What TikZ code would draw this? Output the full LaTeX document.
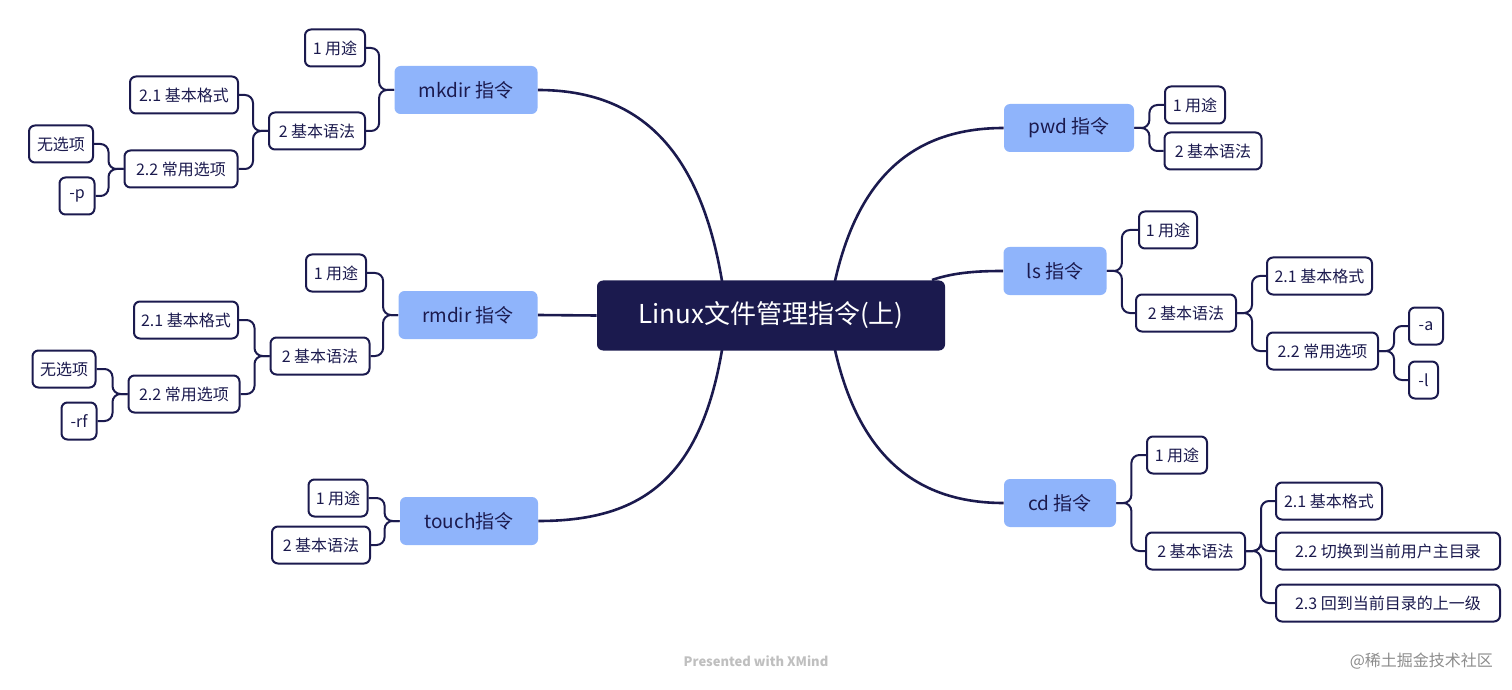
\documentclass[tikz,border=0pt]{standalone}
\usepackage{fontspec}
\setmainfont{Noto Sans CJK SC}
\begin{document}
\definecolor{navy}{HTML}{1B1A4E}
\definecolor{lblue}{HTML}{8FB4FB}
\begin{tikzpicture}[x=0.5pt,y=-0.5pt,
  leaf/.style={draw=navy,line width=1pt,rounded corners=3pt,fill=white,text=navy,font=\fontsize{8}{9}\selectfont,minimum height=18.5pt,minimum width={#1*0.5pt},inner sep=0pt},
  lvl/.style={fill=lblue,rounded corners=3pt,text=navy,font=\fontsize{9.5}{11}\selectfont,minimum height=24pt,minimum width={#1*0.5pt},inner sep=0pt},
  br/.style={draw=navy,line width=1pt,rounded corners=4pt},
  main/.style={draw=navy,line width=1.3pt}]
\useasboundingbox (0,0) rectangle (1512,690);
\node[fill=navy,rounded corners=3pt,text=white,font=\fontsize{13}{15}\selectfont,minimum width=174pt,minimum height=35pt] (c) at (771,315.5) {Linux文件管理指令(上)};
% level 1
\node[lvl=143] (mk) at (466,90) {mkdir 指令};
\node[lvl=139] (rm) at (468,315) {rmdir 指令};
\node[lvl=138] (to) at (469,521) {touch指令};
\node[lvl=130] (pw) at (1069,128) {pwd 指令};
\node[lvl=103] (ls) at (1055,271) {ls 指令};
\node[lvl=112] (cd) at (1060,503) {cd 指令};
% connectors main
\coordinate (c1) at (722,281); \coordinate (c2) at (722,350);
\coordinate (c3) at (835,281); \coordinate (c4) at (835,350);
\coordinate (c5) at (932,280);
\draw[main] (c1) .. controls (700,150) and (640,90) .. (mk.east);
\draw[main] (c.west) -- (rm.east);
\draw[main] (c2) .. controls (700,480) and (640,521) .. (to.east);
\draw[main] (c3) .. controls (860,170) and (920,128) .. (pw.west);
\draw[main] (c5) .. controls (955,272) and (980,271) .. (ls.west);
\draw[main] (c4) .. controls (860,460) and (920,503) .. (cd.west);
% mkdir
\node[leaf=60] (mk1) at (335,48) {1 用途};
\node[leaf=96] (mk2) at (317,131) {2 基本语法};
\node[leaf=108] (mk21) at (184,95) {2.1 基本格式};
\node[leaf=113] (mk22) at (181,169) {2.2 常用选项};
\node[leaf=64] (mk221) at (61,144) {无选项};
\node[leaf=35] (mk222) at (77,196) {-p};
\foreach \p/\q in {mk/mk1,mk/mk2,mk2/mk21,mk2/mk22,mk22/mk221,mk22/mk222}
  \draw[br] (\p.west) -- ++(-15,0) |- (\q.east);
% rmdir
\node[leaf=60] (rm1) at (336,273) {1 用途};
\node[leaf=99] (rm2) at (320,356) {2 基本语法};
\node[leaf=104] (rm21) at (186,320) {2.1 基本格式};
\node[leaf=111] (rm22) at (184,394) {2.2 常用选项};
\node[leaf=63] (rm221) at (64,369) {无选项};
\node[leaf=35] (rm222) at (79,421) {-rf};
\foreach \p/\q in {rm/rm1,rm/rm2,rm2/rm21,rm2/rm22,rm22/rm221,rm22/rm222}
  \draw[br] (\p.west) -- ++(-15,0) |- (\q.east);
% touch
\node[leaf=59] (to1) at (338,498) {1 用途};
\node[leaf=98] (to2) at (321,545) {2 基本语法};
\foreach \p/\q in {to/to1,to/to2}
  \draw[br] (\p.west) -- ++(-15,0) |- (\q.east);
% pwd
\node[leaf=60] (pw1) at (1195,105) {1 用途};
\node[leaf=97] (pw2) at (1213,151) {2 基本语法};
\foreach \p/\q in {pw/pw1,pw/pw2}
  \draw[br] (\p.east) -- ++(15,0) |- (\q.west);
% ls
\node[leaf=58] (ls1) at (1168,230) {1 用途};
\node[leaf=100] (ls2) at (1186,313) {2 基本语法};
\node[leaf=105] (ls21) at (1319.5,276) {2.1 基本格式};
\node[leaf=111] (ls22) at (1322.5,351) {2.2 常用选项};
\node[leaf=34] (ls221) at (1426,326) {-a};
\node[leaf=29] (ls222) at (1423.5,380) {-l};
\foreach \p/\q in {ls/ls1,ls/ls2,ls2/ls21,ls2/ls22,ls22/ls221,ls22/ls222}
  \draw[br] (\p.east) -- ++(15,0) |- (\q.west);
% cd
\node[leaf=60] (cd1) at (1177,455) {1 用途};
\node[leaf=99] (cd2) at (1195.5,551) {2 基本语法};
\node[leaf=106] (cd21) at (1329,501) {2.1 基本格式};
\node[leaf=224] (cd22) at (1388,551) {2.2 切换到当前用户主目录};
\node[leaf=224] (cd23) at (1388,603) {2.3 回到当前目录的上一级};
\foreach \p/\q in {cd/cd1,cd/cd2,cd2/cd21,cd2/cd22,cd2/cd23}
  \draw[br] (\p.east) -- ++(15,0) |- (\q.west);
% watermarks
\node[text=black!25,font=\fontsize{6.5}{8}\selectfont\bfseries] (wm) at (756,661) {Presented with XMind};
\node[text=black!45,font=\fontsize{8}{9}\selectfont,anchor=east] (wm2) at (1500,661) {@稀土掘金技术社区};
\end{tikzpicture}
\end{document}
